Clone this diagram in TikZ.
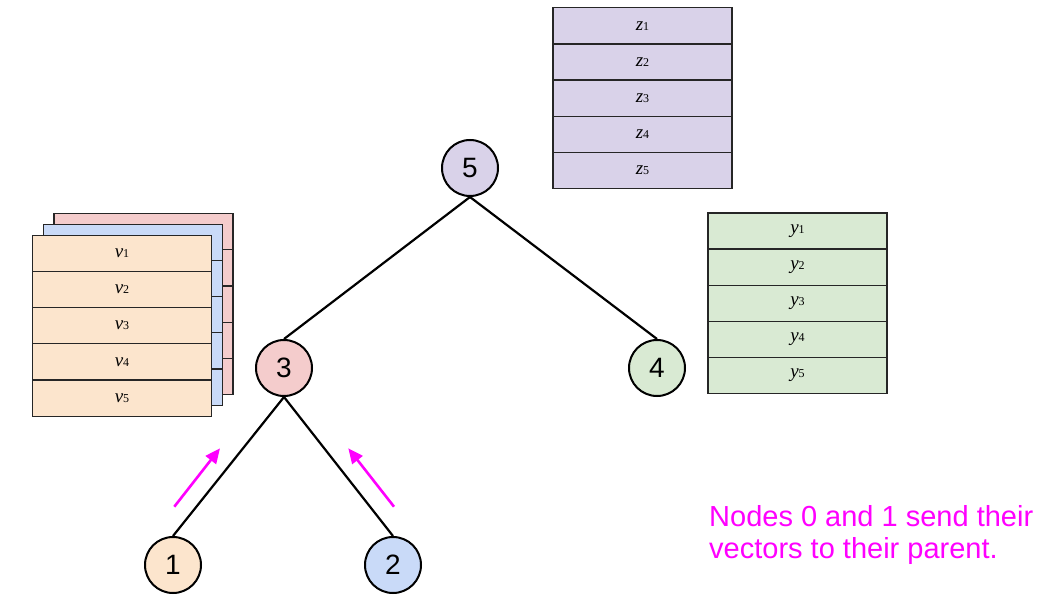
\documentclass[tikz,border=0pt]{standalone}
\usepackage{fontspec}
\setmainfont{Liberation Serif}
\newfontfamily\labelfont{Liberation Sans}
\usetikzlibrary{arrows.meta}
\definecolor{cOrange}{HTML}{FCE5CD}
\definecolor{cBlue}{HTML}{C9DAF8}
\definecolor{cPink}{HTML}{F4CCCC}
\definecolor{cPurple}{HTML}{D9D2E9}
\definecolor{cGreen}{HTML}{D9EAD3}
\definecolor{cMag}{HTML}{FF00FF}
\newcommand{\vlab}[2]{\fontsize{19}{19}\selectfont\textit{#1}{\fontsize{12}{12}\selectfont #2}}
\tikzset{
  cell/.style={draw=black!85, line width=1.2pt, minimum width=179pt, minimum height=36.2pt, inner sep=0pt, outer sep=0pt},
  treenode/.style={circle, draw=black, line width=2pt, minimum size=56pt, inner sep=0pt, font=\labelfont\fontsize{28}{28}\selectfont},
  edge/.style={draw=black, line width=2.2pt},
  sendarrow/.style={draw=cMag, line width=2.6pt, -{Triangle[length=15pt,width=13pt]}},
  note/.style={text=cMag, anchor=base west, inner sep=0pt, font=\labelfont\fontsize{29}{32}\selectfont}
}
\begin{document}
\begin{tikzpicture}[x=1pt,y=-1pt]
\useasboundingbox (0,0) rectangle (1053,602);
% z table
\foreach \i/\yy in {1/26,2/62.1,3/98.2,4/134.3,5/170.4}
  \node[cell, fill=cPurple] (z\i) at (642.5,\yy) {\vlab{z}{\i}};
% y table
\foreach \i/\yy in {1/231,2/267.1,3/303.2,4/339.3,5/375.4}
  \node[cell, fill=cGreen] (y\i) at (797.5,\yy) {\vlab{y}{\i}};
% stacked v tables
\foreach \i/\yy in {1/253.2,2/289.4,3/325.6,4/361.8,5/398}
  \node[cell, fill=cPink] (p\i) at (143.5,\yy-21.5) {};
\foreach \i/\yy in {1/253.2,2/289.4,3/325.6,4/361.8,5/398}
  \node[cell, fill=cBlue] (b\i) at (133,\yy-11) {};
\foreach \i/\yy in {1/253.2,2/289.4,3/325.6,4/361.8,5/398}
  \node[cell, fill=cOrange] (v\i) at (122,\yy) {\vlab{v}{\i}};
% tree
\node[treenode, fill=cPurple] (n5) at (470,168) {5};
\node[treenode, fill=cPink] (n3) at (284,368) {3};
\node[treenode, fill=cGreen] (n4) at (657,368) {4};
\node[treenode, fill=cOrange] (n1) at (173,565) {1};
\node[treenode, fill=cBlue] (n2) at (393,565) {2};
\draw[edge] (n5.south) -- (n3.north);
\draw[edge] (n5.south) -- (n4.north);
\draw[edge] (n3.south) -- (n1.north);
\draw[edge] (n3.south) -- (n2.north);
% arrows
\coordinate (a1s) at (174.3,506.7);
\coordinate (a1e) at (220,448.3);
\coordinate (a2s) at (394,506.7);
\coordinate (a2e) at (348.3,448.3);
\draw[sendarrow] (a1s) -- (a1e);
\draw[sendarrow] (a2s) -- (a2e);
% note
\node[note] (note1) at (709,526.7) {Nodes 0 and 1 send their};
\node[note] (note2) at (709,558.3) {vectors to their parent.};
\end{tikzpicture}
\end{document}
